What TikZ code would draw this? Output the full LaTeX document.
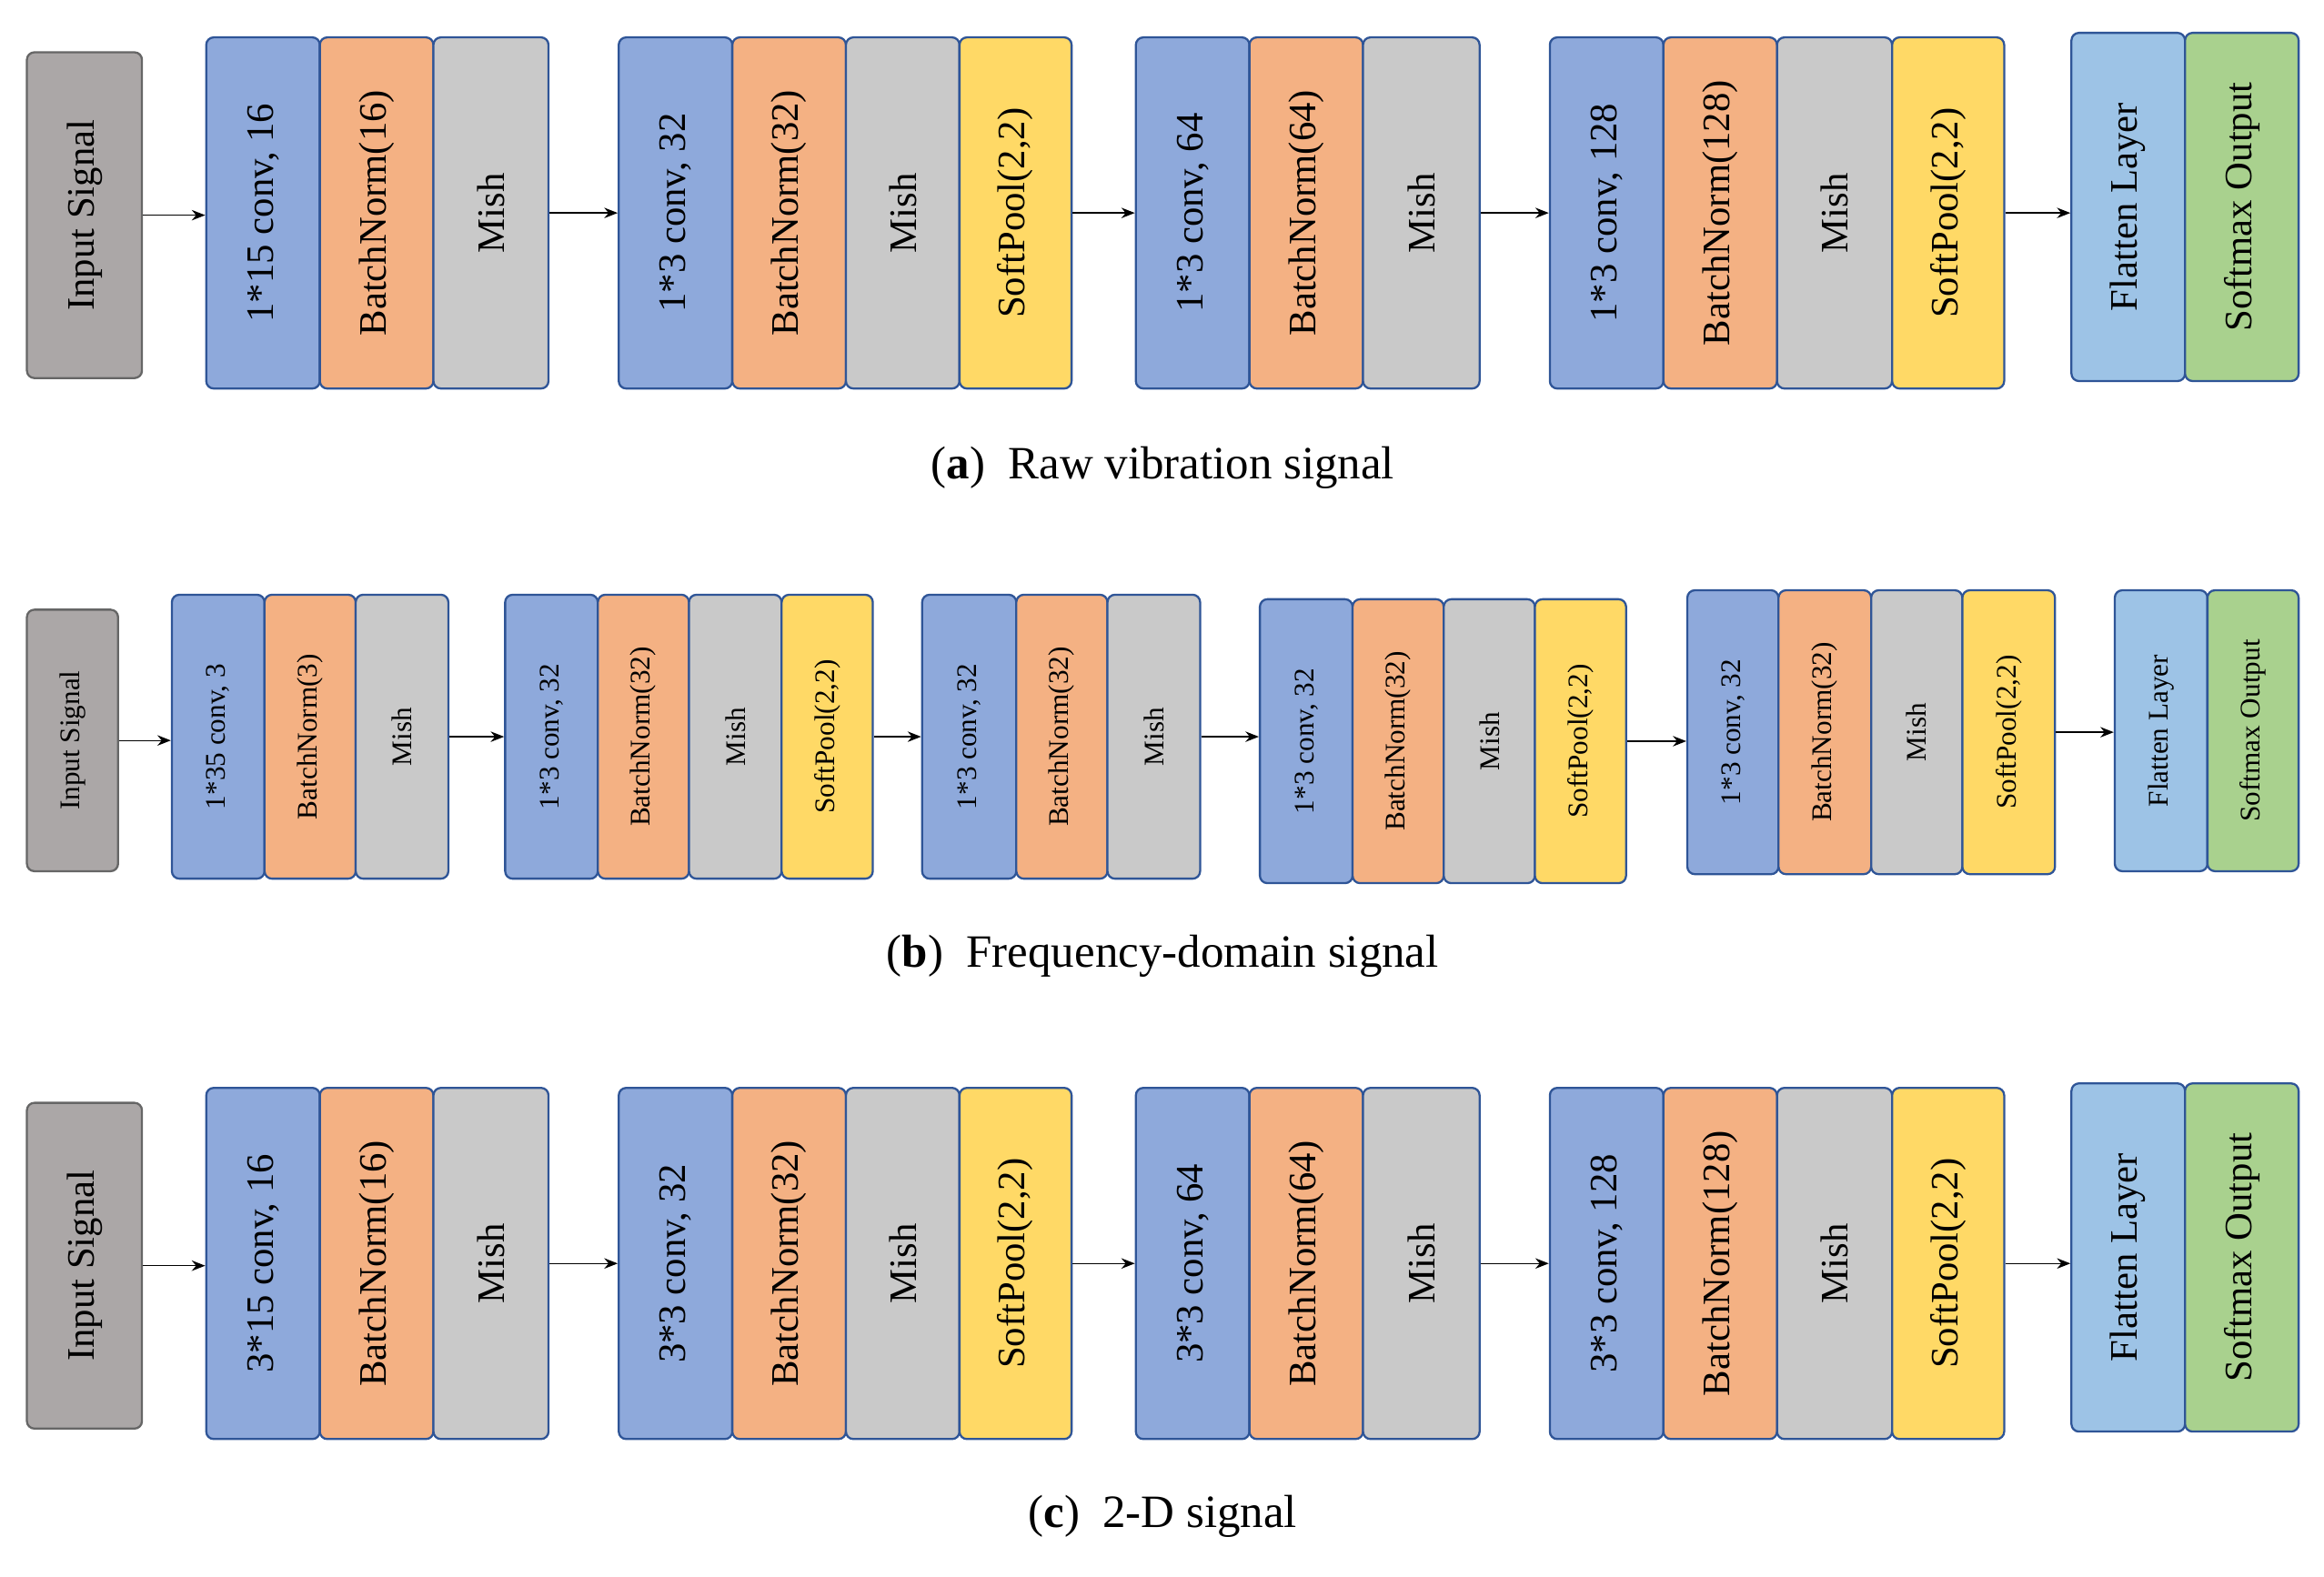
\documentclass[tikz,border=0pt]{standalone}
\usepackage{fontspec}
\setmainfont{Liberation Serif}
\usetikzlibrary{arrows.meta}
\definecolor{cv}{HTML}{8EA9DB}\definecolor{bn}{HTML}{F4B183}
\definecolor{mi}{HTML}{C9C9C9}\definecolor{sp}{HTML}{FFD966}
\definecolor{fl}{HTML}{9DC3E6}\definecolor{sm}{HTML}{A9D18E}
\definecolor{ip}{HTML}{ABA7A7}\definecolor{bd}{HTML}{2F5597}
\tikzset{bx/.style={rotate=90,draw=bd,line width=1.4pt,rounded corners=5pt,inner sep=0pt},
 big/.style={font=\fontsize{26}{28}\selectfont},
 sml/.style={font=\fontsize{19}{21}\selectfont},
 arr/.style={-{Stealth[length=9pt,width=7pt]},line width=0.8pt},
 captxt/.style={font=\fontsize{31}{35}\selectfont}}
\newcommand\B[8]{\node[bx,#8,fill=#6,minimum width=#5pt,minimum height=#4pt] (#1) at (#2,#3) {#7};}
\newcommand\I[6]{\node[bx,#6,draw=gray!80!black,fill=ip,minimum width=#5pt,minimum height=#4pt] (#1) at (#2,#3) {Input Signal};}
\newcommand\rowbig[3]{%
\I{in#1}{56.5}{144+#2}{77}{218}{big}
\B{a1#1}{176}{142.5+#2}{76}{235}{cv}{#3*15 conv, 16}{big}
\B{b1#1}{252}{142.5+#2}{76}{235}{bn}{BatchNorm(16)}{big}
\B{m1#1}{328.5}{142.5+#2}{77}{235}{mi}{Mish}{big}
\B{a2#1}{452}{142.5+#2}{76}{235}{cv}{#3*3 conv, 32}{big}
\B{b2#1}{528}{142.5+#2}{76}{235}{bn}{BatchNorm(32)}{big}
\B{m2#1}{604}{142.5+#2}{76}{235}{mi}{Mish}{big}
\B{s2#1}{679.5}{142.5+#2}{75}{235}{sp}{SoftPool(2,2)}{big}
\B{a3#1}{798}{142.5+#2}{76}{235}{cv}{#3*3 conv, 64}{big}
\B{b3#1}{874}{142.5+#2}{76}{235}{bn}{BatchNorm(64)}{big}
\B{m3#1}{951}{142.5+#2}{78}{235}{mi}{Mish}{big}
\B{a4#1}{1075}{142.5+#2}{76}{235}{cv}{#3*3 conv, 128}{big}
\B{b4#1}{1151}{142.5+#2}{76}{235}{bn}{BatchNorm(128)}{big}
\B{m4#1}{1227.5}{142.5+#2}{77}{235}{mi}{Mish}{big}
\B{s4#1}{1303.5}{142.5+#2}{75}{235}{sp}{SoftPool(2,2)}{big}
\B{f#1}{1424}{138.5+#2}{76}{233}{fl}{Flatten Layer}{big}
\B{o#1}{1500}{138.5+#2}{76}{233}{sm}{Softmax Output}{big}
\draw[arr] (in#1.south) -- (in#1.south -| a1#1.north);
\draw[arr] (m1#1.south) -- (m1#1.south -| a2#1.north);
\draw[arr] (s2#1.south) -- (s2#1.south -| a3#1.north);
\draw[arr] (m3#1.south) -- (m3#1.south -| a4#1.north);
\draw[arr] (s4#1.south) -- (s4#1.south -| f#1.north);
}
\begin{document}
\begin{tikzpicture}[x=1pt,y=-1pt]
\useasboundingbox (0,0) rectangle (1555,1055);
\rowbig{a}{0}{1}
\rowbig{c}{703}{3}
% row b
\I{inb}{48.5}{495.5}{61}{175}{sml}
\B{a1b}{146}{493}{62}{190}{cv}{1*35 conv, 3}{sml}
\B{b1b}{207.5}{493}{61}{190}{bn}{BatchNorm(3)}{sml}
\B{m1b}{269}{493}{62}{190}{mi}{Mish}{sml}
\B{a2b}{369}{493}{62}{190}{cv}{1*3 conv, 32}{sml}
\B{b2b}{430.5}{493}{61}{190}{bn}{BatchNorm(32)}{sml}
\B{m2b}{492}{493}{62}{190}{mi}{Mish}{sml}
\B{s2b}{553.5}{493}{61}{190}{sp}{SoftPool(2,2)}{sml}
\B{a3b}{648.5}{493}{63}{190}{cv}{1*3 conv, 32}{sml}
\B{b3b}{710.5}{493}{61}{190}{bn}{BatchNorm(32)}{sml}
\B{m3b}{772}{493}{62}{190}{mi}{Mish}{sml}
\B{a4b}{874}{496}{62}{190}{cv}{1*3 conv, 32}{sml}
\B{b4b}{935.5}{496}{61}{190}{bn}{BatchNorm(32)}{sml}
\B{m4b}{996.5}{496}{61}{190}{mi}{Mish}{sml}
\B{s4b}{1057.5}{496}{61}{190}{sp}{SoftPool(2,2)}{sml}
\B{a5b}{1159.5}{490}{61}{190}{cv}{1*3 conv, 32}{sml}
\B{b5b}{1221}{490}{62}{190}{bn}{BatchNorm(32)}{sml}
\B{m5b}{1282.5}{490}{61}{190}{mi}{Mish}{sml}
\B{s5b}{1344}{490}{62}{190}{sp}{SoftPool(2,2)}{sml}
\B{fb}{1446}{489}{62}{188}{fl}{Flatten Layer}{sml}
\B{ob}{1507.5}{489}{61}{188}{sm}{Softmax Output}{sml}
\draw[arr] (inb.south) -- (inb.south -| a1b.north);
\draw[arr] (m1b.south) -- (m1b.south -| a2b.north);
\draw[arr] (s2b.south) -- (s2b.south -| a3b.north);
\draw[arr] (m3b.south) -- (m3b.south -| a4b.north);
\draw[arr] (s4b.south) -- (s4b.south -| a5b.north);
\draw[arr] (s5b.south) -- (s5b.south -| fb.north);
% captions
\node[captxt] (ca) at (778,313) {(\textbf{a})\enspace Raw vibration signal};
\node[captxt] (cb) at (778,640) {(\textbf{b})\enspace Frequency-domain signal};
\node[captxt] (cc) at (778,1015) {(\textbf{c})\enspace 2-D signal};
\end{tikzpicture}
\end{document}
